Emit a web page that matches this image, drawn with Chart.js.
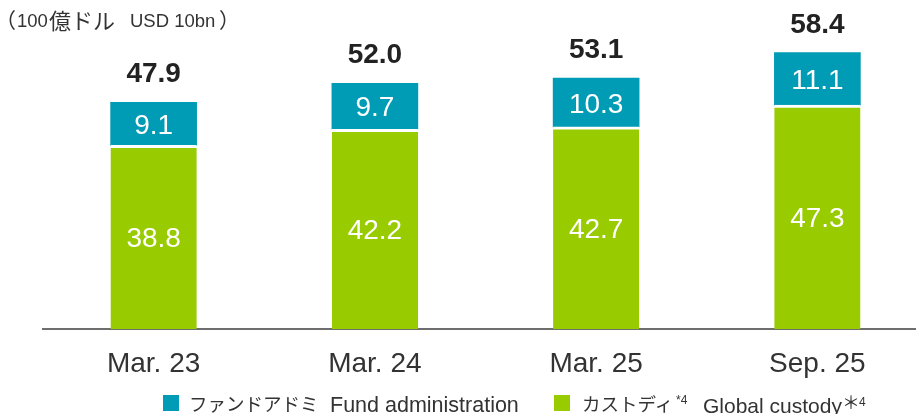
<!DOCTYPE html>
<html>
<head>
<meta charset="utf-8">
<script src="https://cdn.jsdelivr.net/npm/chart.js@4"></script>
<style>
  body { margin: 0; width: 916px; height: 414px; overflow: hidden; background: #fff; }
  .wrap { position: relative; width: 916px; height: 414px; }
  canvas { position: absolute; left: 0; top: 0; }
  .txt { position: absolute; white-space: pre; line-height: 1; color: #333; }
  .jp { font-family: "Noto Sans CJK JP", sans-serif; }
  .en { font-family: "Liberation Sans", Arial, sans-serif; }
  .sq { position: absolute; width: 16px; height: 16px; }
</style>
</head>
<body>
<div class="wrap">
  <canvas id="chart" width="940" height="414"></canvas>

  <div class="txt jp" style="left:-5px;top:9px;font-size:21px;">（</div>
  <div class="txt en" style="left:17px;top:12px;font-size:18.5px;">100</div>
  <div class="txt jp" style="left:49px;top:8px;font-size:22px;">億ドル</div>
  <div class="txt en" style="left:130px;top:12px;font-size:18.5px;">USD 10bn</div>
  <div class="txt jp" style="left:219px;top:9px;font-size:21px;">）</div>

  <div class="sq" style="left:163px;top:395px;background:#009bb4;"></div>
  <div class="txt jp" style="left:189px;top:394px;font-size:18.5px;">ファンドアドミ</div>
  <div class="txt en" style="left:330px;top:394.5px;font-size:21.5px;">Fund administration</div>

  <div class="sq" style="left:554px;top:395px;background:#99cc00;"></div>
  <div class="txt jp" style="left:582px;top:394px;font-size:18.5px;">カストディ</div>
  <div class="txt en" style="left:676px;top:394px;font-size:12px;">*4</div>
  <div class="txt en" style="left:703px;top:394.5px;font-size:21px;">Global custody</div>
  <div class="txt jp" style="left:842px;top:392px;font-size:18px;">＊</div>
  <div class="txt en" style="left:859px;top:396px;font-size:12px;">4</div>
</div>
<script>
const categories = ["Mar. 23", "Mar. 24", "Mar. 25", "Sep. 25"];
const custody = [38.8, 42.2, 42.7, 47.3];
const fundAdmin = [9.1, 9.7, 10.3, 11.1];
const totals = [47.9, 52.0, 53.1, 58.4];

const TEAL = "#009bb4";
const GREEN = "#99cc00";

// value labels inside the segments and totals on top
const labelPlugin = {
  id: "labels",
  afterDatasetsDraw(chart) {
    const { ctx } = chart;
    ctx.save();
    ctx.textAlign = "center";
    ctx.textBaseline = "alphabetic";

    chart.data.datasets.forEach((ds, i) => {
      const meta = chart.getDatasetMeta(i);
      meta.data.forEach((bar, j) => {
        const mid = (bar.y + bar.base) / 2;
        ctx.fillStyle = "#ffffff";
        ctx.font = "28px 'Liberation Sans', Arial, sans-serif";
        ctx.fillText(ds.data[j].toFixed(1), bar.x, mid + 10);
      });
    });

    const topMeta = chart.getDatasetMeta(1);
    topMeta.data.forEach((bar, j) => {
      ctx.fillStyle = "#222222";
      ctx.font = "bold 28px 'Liberation Sans', Arial, sans-serif";
      ctx.fillText(totals[j].toFixed(1), bar.x, bar.y - 20);
    });
    ctx.restore();
  },
};

new Chart(document.getElementById("chart"), {
  type: "bar",
  plugins: [labelPlugin],
  data: {
    labels: categories,
    datasets: [
      {
        label: "カストディ Global custody",
        data: custody,
        backgroundColor: GREEN,
        borderColor: "#ffffff",
        borderWidth: { top: 3, left: 0, right: 0, bottom: 0 },
        borderSkipped: false,
        barThickness: 86,
      },
      {
        label: "ファンドアドミ Fund administration",
        data: fundAdmin,
        backgroundColor: TEAL,
        borderWidth: 0,
        barThickness: 86,
      },
    ],
  },
  options: {
    responsive: false,
    animation: false,
    layout: { padding: { left: 43, right: 12, top: 45, bottom: 0 } },
    plugins: {
      legend: { display: false },
      tooltip: { enabled: false },
    },
    scales: {
      x: {
        stacked: true,
        grid: { display: false, drawTicks: false },
        border: { display: true, color: "#6e6e6e", width: 2 },
        ticks: {
          color: "#333333",
          padding: 18,
          font: { size: 28, family: "'Liberation Sans', Arial, sans-serif" },
          maxRotation: 0,
        },
        afterFit: (scale) => {
          scale.height = 85;
        },
      },
      y: {
        stacked: true,
        display: false,
        min: 0,
        max: 60,
      },
    },
  },
});
</script>
</body>
</html>
